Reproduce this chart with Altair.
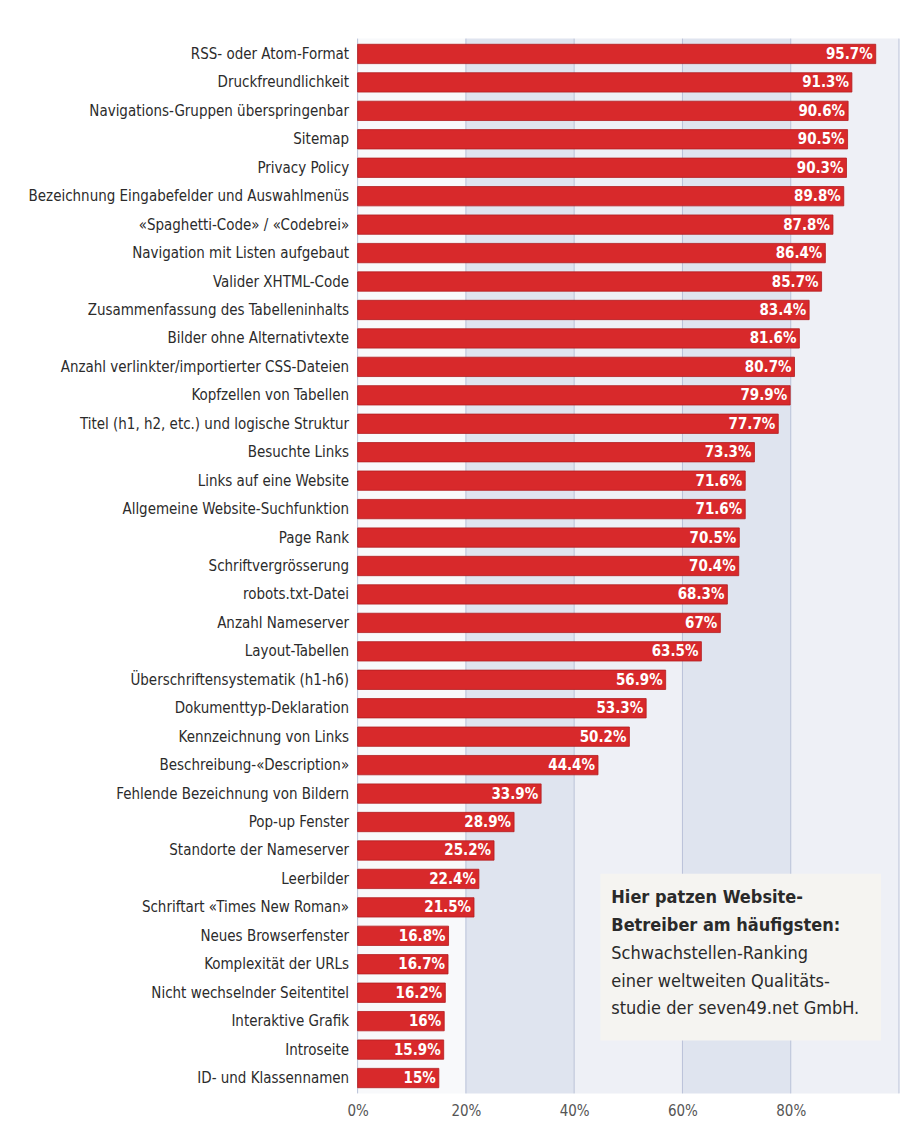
import altair as alt
import pandas as pd

categories = [
    "RSS- oder Atom-Format", "Druckfreundlichkeit", "Navigations-Gruppen überspringenbar",
    "Sitemap", "Privacy Policy", "Bezeichnung Eingabefelder und Auswahlmenüs",
    "«Spaghetti-Code» / «Codebrei»", "Navigation mit Listen aufgebaut", "Valider XHTML-Code",
    "Zusammenfassung des Tabelleninhalts", "Bilder ohne Alternativtexte",
    "Anzahl verlinkter/importierter CSS-Dateien", "Kopfzellen von Tabellen",
    "Titel (h1, h2, etc.) und logische Struktur", "Besuchte Links", "Links auf eine Website",
    "Allgemeine Website-Suchfunktion", "Page Rank", "Schriftvergrösserung", "robots.txt-Datei",
    "Anzahl Nameserver", "Layout-Tabellen", "Überschriftensystematik (h1-h6)",
    "Dokumenttyp-Deklaration", "Kennzeichnung von Links", "Beschreibung-«Description»",
    "Fehlende Bezeichnung von Bildern", "Pop-up Fenster", "Standorte der Nameserver",
    "Leerbilder", "Schriftart «Times New Roman»", "Neues Browserfenster",
    "Komplexität der URLs", "Nicht wechselnder Seitentitel", "Interaktive Grafik",
    "Introseite", "ID- und Klassennamen",
]
values = [95.7, 91.3, 90.6, 90.5, 90.3, 89.8, 87.8, 86.4, 85.7, 83.4, 81.6, 80.7, 79.9,
          77.7, 73.3, 71.6, 71.6, 70.5, 70.4, 68.3, 67, 63.5, 56.9, 53.3, 50.2, 44.4,
          33.9, 28.9, 25.2, 22.4, 21.5, 16.8, 16.7, 16.2, 16, 15.9, 15]
value_labels = ["95.7%", "91.3%", "90.6%", "90.5%", "90.3%", "89.8%", "87.8%", "86.4%",
                "85.7%", "83.4%", "81.6%", "80.7%", "79.9%", "77.7%", "73.3%", "71.6%",
                "71.6%", "70.5%", "70.4%", "68.3%", "67%", "63.5%", "56.9%", "53.3%",
                "50.2%", "44.4%", "33.9%", "28.9%", "25.2%", "22.4%", "21.5%", "16.8%",
                "16.7%", "16.2%", "16%", "15.9%", "15%"]

band_start = [0, 20, 40, 60, 80]
band_end = [20, 40, 60, 80, 100]
band_color = ["#f8f9fb", "#dfe4ef", "#eef0f6", "#dfe4ef", "#eef0f6"]
grid_ticks = [0, 20, 40, 60, 80, 100]

note_lines = ["Hier patzen Website-", "Betreiber am häufigsten:", "Schwachstellen-Ranking",
              "einer weltweiten Qualitäts-", "studie der seven49.net GmbH."]
note_weights = ["bold", "bold", "normal", "normal", "normal"]

df = pd.DataFrame({"cat": categories, "val": values, "lab": value_labels})
bands = pd.DataFrame({"a": band_start, "b": band_end, "c": band_color})
grid = pd.DataFrame({"t": grid_ticks})

W, H = 542, 1056
FONT = "'Liberation Sans Narrow', 'DejaVu Sans Condensed', 'Roboto Condensed', Roboto, sans-serif"

xscale = alt.Scale(domain=[0, 100], nice=False)
xaxis = alt.Axis(values=[0, 20, 40, 60, 80], format=".0f", labelExpr="datum.value + '%'",
                 grid=False, domain=False, ticks=False, labelFont=FONT, labelFontSize=15,
                 labelColor="#555555", labelPadding=10, labelFlush=False, title=None)

band_layer = alt.Chart(bands).mark_rect().encode(
    x=alt.X("a:Q", scale=xscale, axis=xaxis), x2="b:Q",
    y=alt.value(0), y2=alt.value(H),
    color=alt.Color("c:N", scale=None),
)
grid_layer = alt.Chart(grid).mark_rule(color="#b9c1d8", strokeWidth=1).encode(
    x=alt.X("t:Q", scale=xscale), y=alt.value(0), y2=alt.value(H)
)

yenc = alt.Y("cat:N", sort=categories, scale=alt.Scale(paddingInner=0.32, paddingOuter=0.2),
             axis=alt.Axis(title=None, domain=False, ticks=False, labelFont=FONT,
                           labelFontSize=15, labelColor="#2b2b2b", labelPadding=9,
                           labelLimit=400, minExtent=345, maxExtent=345))

bars = alt.Chart(df).mark_bar(color="#d8292b", stroke="#b31d1f", strokeWidth=0.8).encode(
    x=alt.X("val:Q", scale=xscale), y=yenc
)
texts = alt.Chart(df).mark_text(align="right", baseline="middle", dx=-3, color="white",
                                font=FONT, fontWeight="bold", fontSize=15).encode(
    x=alt.X("val:Q", scale=xscale), y=alt.Y("cat:N", sort=categories), text="lab:N"
)

note_box = alt.Chart(pd.DataFrame({"k": [0]})).mark_rect(color="#f5f4f1").encode(
    x=alt.value(243), x2=alt.value(524), y=alt.value(836), y2=alt.value(1003)
)
note_layers = []
for i, (line, w) in enumerate(zip(note_lines, note_weights)):
    note_layers.append(
        alt.Chart(pd.DataFrame({"line": [line]})).mark_text(
            align="left", baseline="middle", font=FONT, fontWeight=w, fontSize=18,
            color="#2a2a2a"
        ).encode(x=alt.value(254), y=alt.value(860 + 28 * i), text="line:N")
    )

chart = alt.layer(band_layer, grid_layer, bars, texts, note_box, *note_layers).properties(
    width=W, height=H,
    padding={"left": 5, "top": 29, "right": 0, "bottom": 5},
    background="#ffffff",
).configure_view(stroke=None)

chart.save("out.html", embed_options={"renderer": "svg", "actions": False})
